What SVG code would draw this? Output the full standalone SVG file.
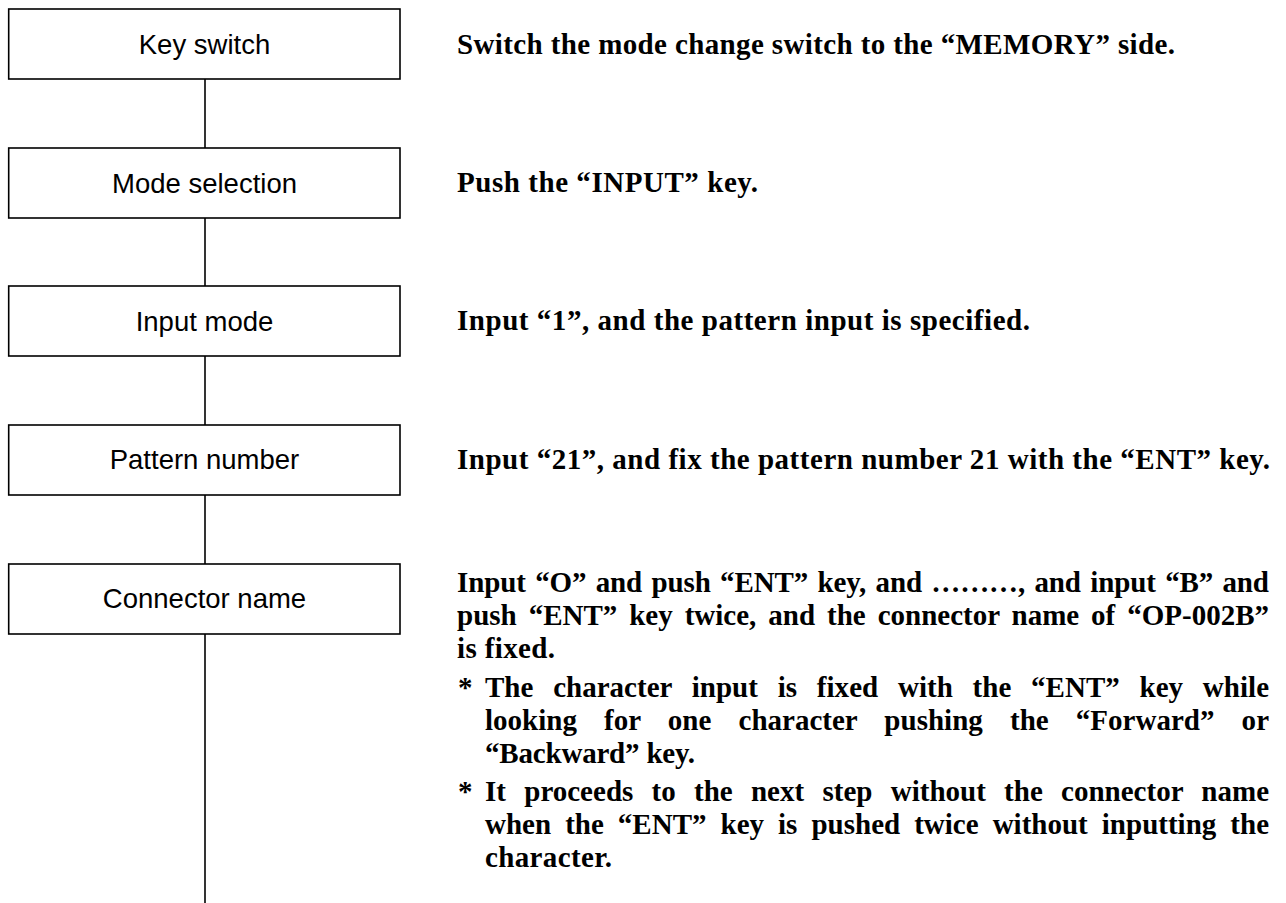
<svg xmlns="http://www.w3.org/2000/svg" width="1286" height="903" viewBox="0 0 1286 903">
<style>
.box{fill:#fff;stroke:#000;stroke-width:1.6}
.lbl{font-family:"Liberation Sans",Arial,sans-serif;font-size:27.5px;fill:#000;text-anchor:middle}
.con{stroke:#000;stroke-width:1.6;fill:none}
.d{font-family:"Liberation Serif","Times New Roman",serif;font-size:29px;font-weight:bold;fill:#000}
</style>
<rect width="1286" height="903" fill="#fff"/>
<g id="connectors">
<line class="con" x1="205" y1="79" x2="205" y2="148"/>
<line class="con" x1="205" y1="218" x2="205" y2="286"/>
<line class="con" x1="205" y1="356" x2="205" y2="425"/>
<line class="con" x1="205" y1="495" x2="205" y2="564"/>
<line class="con" x1="205" y1="634" x2="205" y2="903"/>
</g>
<g id="node-key-switch">
<rect class="box" x="8.7" y="9" width="391.3" height="70"/>
<text class="lbl" x="204.5" y="53.5">Key switch</text>
</g>
<g id="node-mode-selection">
<rect class="box" x="8.7" y="148" width="391.3" height="70"/>
<text class="lbl" x="204.5" y="192.5">Mode selection</text>
</g>
<g id="node-input-mode">
<rect class="box" x="8.7" y="286" width="391.3" height="70"/>
<text class="lbl" x="204.5" y="330.5">Input mode</text>
</g>
<g id="node-pattern-number">
<rect class="box" x="8.7" y="425" width="391.3" height="70"/>
<text class="lbl" x="204.5" y="469">Pattern number</text>
</g>
<g id="node-connector-name">
<rect class="box" x="8.7" y="564" width="391.3" height="70"/>
<text class="lbl" x="204.5" y="608">Connector name</text>
</g>
<g id="descriptions">
<text class="d" x="457" y="54" textLength="718" lengthAdjust="spacing">Switch the mode change switch to the “MEMORY” side.</text>
<text class="d" x="457" y="192" textLength="301" lengthAdjust="spacing">Push the “INPUT” key.</text>
<text class="d" x="457" y="330" textLength="573" lengthAdjust="spacing">Input “1”, and the pattern input is specified.</text>
<text class="d" x="457" y="469" textLength="813" lengthAdjust="spacing">Input “21”, and fix the pattern number 21 with the “ENT” key.</text>
<text class="d" x="457" y="592" word-spacing="2.3" textLength="812" lengthAdjust="spacing">Input “O” and push “ENT” key, and ………, and input “B” and</text>
<text class="d" x="457" y="625" word-spacing="4.7" textLength="812" lengthAdjust="spacing">push “ENT” key twice, and the connector name of “OP-002B”</text>
<text class="d" x="457" y="658" textLength="98" lengthAdjust="spacing">is fixed.</text>
<text class="d" x="458" y="697">*</text>
<text class="d" x="485" y="697" word-spacing="12.5" textLength="784" lengthAdjust="spacing">The character input is fixed with the “ENT” key while</text>
<text class="d" x="485" y="730" word-spacing="19.9" textLength="784" lengthAdjust="spacing">looking for one character pushing the “Forward” or</text>
<text class="d" x="485" y="763" textLength="210" lengthAdjust="spacing">“Backward” key.</text>
<text class="d" x="458" y="801">*</text>
<text class="d" x="485" y="801" word-spacing="11" textLength="784" lengthAdjust="spacing">It proceeds to the next step without the connector name</text>
<text class="d" x="485" y="834" word-spacing="6.8" textLength="784" lengthAdjust="spacing">when the “ENT” key is pushed twice without inputting the</text>
<text class="d" x="485" y="867" textLength="127" lengthAdjust="spacing">character.</text>
</g>
</svg>
